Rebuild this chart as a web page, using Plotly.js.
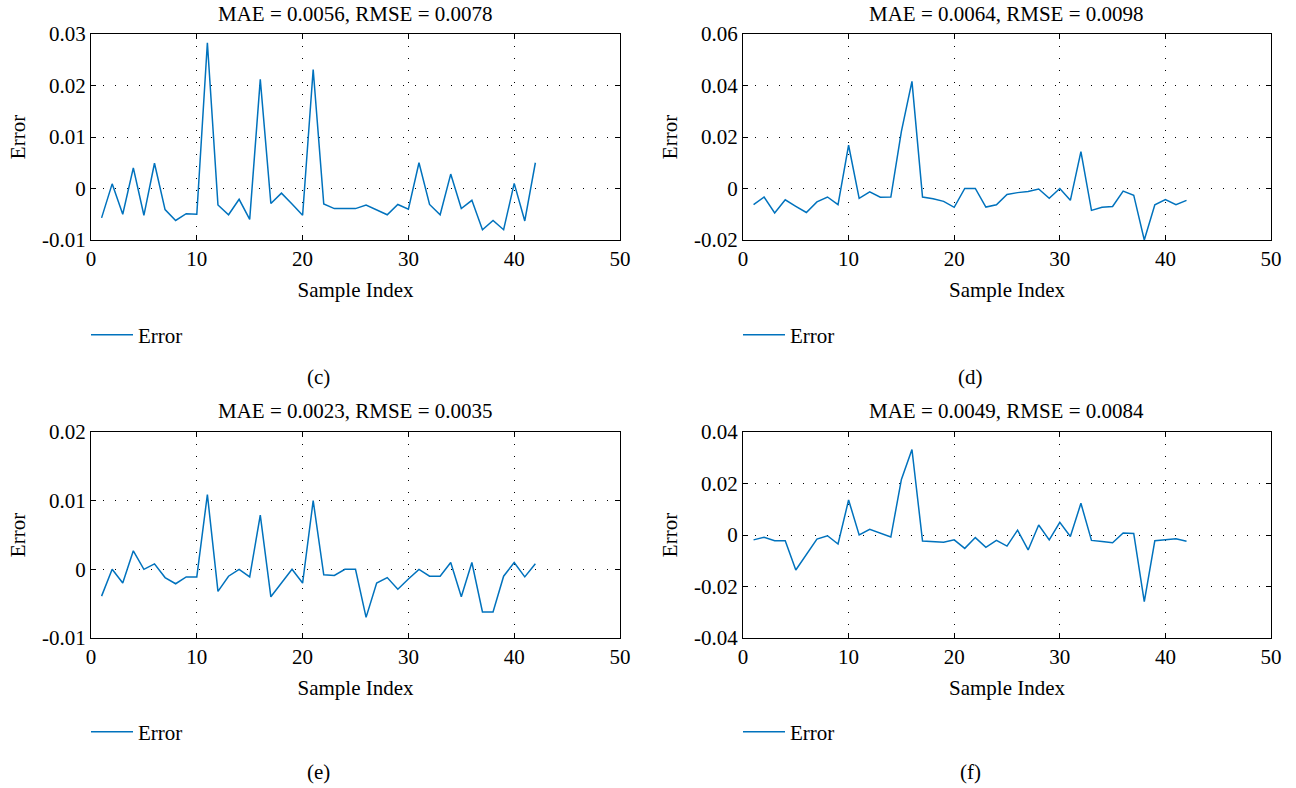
<!DOCTYPE html>
<html>
<head>
<meta charset="utf-8">
<script src="https://cdn.plot.ly/plotly-3.0.1.min.js"></script>
<style>html,body{margin:0;padding:0;background:#fff;}#chart{width:1296px;height:788px;}</style>
</head>
<body>
<div id="chart"></div>
<script>
const sampleIndex = [1,2,3,4,5,6,7,8,9,10,11,12,13,14,15,16,17,18,19,20,21,22,23,24,25,26,27,28,29,30,31,32,33,34,35,36,37,38,39,40,41,42];

const errC = [-0.0057,0.0009,-0.0050,0.0040,-0.0052,0.0049,-0.0041,-0.0062,-0.0049,-0.0050,
  0.0283,-0.0032,-0.0051,-0.0021,-0.0060,0.0212,-0.0029,-0.0009,-0.0030,-0.0052,
  0.0231,-0.0030,-0.0039,-0.0039,-0.0039,-0.0032,-0.0041,-0.0051,-0.0031,-0.0040,
  0.0050,-0.0031,-0.0051,0.0028,-0.0039,-0.0023,-0.0080,-0.0062,-0.0080,0.0010,
  -0.0063,0.0050];

const errD = [-0.0063,-0.0033,-0.0095,-0.0044,-0.0069,-0.0093,-0.0052,-0.0033,-0.0063,0.0168,
  -0.0038,-0.0013,-0.0034,-0.0033,0.0222,0.0416,-0.0033,-0.0040,-0.0050,-0.0073,
  0.0000,0.0000,-0.0072,-0.0063,-0.0023,-0.0016,-0.0012,-0.0002,-0.0038,0.0000,
  -0.0046,0.0143,-0.0085,-0.0073,-0.0070,-0.0010,-0.0026,-0.0200,-0.0063,-0.0043,
  -0.0063,-0.0046];

const errE = [-0.0039,0.0000,-0.0020,0.0027,0.0000,0.0008,-0.0012,-0.0021,-0.0011,-0.0011,
  0.0109,-0.0032,-0.0010,0.0000,-0.0011,0.0079,-0.0040,-0.0020,0.0000,-0.0020,
  0.0100,-0.0008,-0.0009,0.0000,0.0000,-0.0070,-0.0020,-0.0012,-0.0029,-0.0014,
  0.0000,-0.0010,-0.0010,0.0010,-0.0040,0.0010,-0.0062,-0.0062,-0.0010,0.0010,
  -0.0011,0.0008];

const errF = [-0.0019,-0.0009,-0.0022,-0.0022,-0.0136,-0.0076,-0.0016,-0.0003,-0.0035,0.0136,
  0.0000,0.0022,0.0006,-0.0008,0.0216,0.0332,-0.0023,-0.0026,-0.0028,-0.0019,
  -0.0052,-0.0010,-0.0048,-0.0021,-0.0043,0.0019,-0.0058,0.0039,-0.0019,0.0049,
  -0.0006,0.0123,-0.0021,-0.0025,-0.0030,0.0008,0.0006,-0.0259,-0.0022,-0.0018,
  -0.0015,-0.0024];

const xTickVals = [0,10,20,30,40,50];
const yTicksC = [-0.01,0,0.01,0.02,0.03];
const yTickTextC = ['-0.01','0','0.01','0.02','0.03'];
const yTicksD = [-0.02,0,0.02,0.04,0.06];
const yTickTextD = ['-0.02','0','0.02','0.04','0.06'];
const yTicksE = [-0.01,0,0.01,0.02];
const yTickTextE = ['-0.01','0','0.01','0.02'];
const yTicksF = [-0.04,-0.02,0,0.02,0.04];
const yTickTextF = ['-0.04','-0.02','0','0.02','0.04'];

const panelTitles = ['MAE = 0.0056, RMSE = 0.0078','MAE = 0.0064, RMSE = 0.0098','MAE = 0.0023, RMSE = 0.0035','MAE = 0.0049, RMSE = 0.0084'];
const panelLabels = ['(c)','(d)','(e)','(f)'];
const seriesName = 'Error';

const W = 1296, H = 788;
const FONT = '"Liberation Serif", "Times New Roman", serif';
const FS = 21;
const BLUE = '#0072BD';

function px(x){return x/W;}
function py(y){return 1 - y/H;}

const series = [errC, errD, errE, errF];
const legendIds = ['legend','legend2','legend3','legend4'];
const traces = series.map((s,i)=>({
  type:'scatter', mode:'lines', x:sampleIndex, y:s, name:seriesName,
  xaxis: i===0?'x':'x'+(i+1), yaxis: i===0?'y':'y'+(i+1),
  line:{color:BLUE, width:1.5}, legend: legendIds[i], showlegend:true,
  cliponaxis:true
}));

function xAxis(dom, anchor){
  return {domain:dom, anchor:anchor, range:[0,50], tickvals:xTickVals, ticktext:xTickVals.map(String),
    showline:true, mirror:'ticks', linecolor:'#000', linewidth:1, ticks:'inside', ticklen:5, tickcolor:'#000',
    showgrid:true, gridcolor:'#000', griddash:'1px,11px', gridwidth:1, zeroline:false,
    tickfont:{family:FONT,size:FS,color:'#000'},
    title:{text:'Sample Index', font:{family:FONT,size:FS,color:'#000'}, standoff:12},
    automargin:false, fixedrange:true};
}
function yAxis(dom, anchor, rng, vals, txt){
  return {domain:dom, anchor:anchor, range:rng, tickvals:vals, ticktext:txt,
    showline:true, mirror:'ticks', linecolor:'#000', linewidth:1, ticks:'inside', ticklen:5, tickcolor:'#000',
    showgrid:true, gridcolor:'#000', griddash:'1px,11px', gridwidth:1, zeroline:false,
    tickfont:{family:FONT,size:FS,color:'#000'},
    title:{text:'Error', font:{family:FONT,size:FS,color:'#000'}, standoff:10},
    automargin:false, fixedrange:true};
}

const xL=[px(91),px(620)], xR=[px(743),px(1271)];
const yT=[py(240),py(34)], yB=[py(638),py(432)];

function legendAt(x,y){
  return {x:px(x), y:py(y), xanchor:'left', yanchor:'middle', bgcolor:'rgba(0,0,0,0)',
    font:{family:FONT,size:FS,color:'#000'}, itemwidth:42, tracegroupgap:0};
}

const annotations = [];
const titlePos = [[355,14],[1007,14],[355,411],[1007,411]];
const labelPos = [[318,377],[970,377],[318,772],[970,772]];
for(let i=0;i<4;i++){
  annotations.push({text:panelTitles[i], x:px(titlePos[i][0]), y:py(titlePos[i][1]), xref:'paper', yref:'paper',
    xanchor:'center', yanchor:'middle', showarrow:false, font:{family:FONT,size:FS,color:'#000'}});
  annotations.push({text:panelLabels[i], x:px(labelPos[i][0]), y:py(labelPos[i][1]), xref:'paper', yref:'paper',
    xanchor:'center', yanchor:'middle', showarrow:false, font:{family:FONT,size:FS,color:'#000'}});
}

const layout = {
  width:W, height:H, margin:{l:0,r:0,t:0,b:0}, paper_bgcolor:'#fff', plot_bgcolor:'#fff',
  font:{family:FONT,size:FS,color:'#000'},
  xaxis:xAxis(xL,'y'), yaxis:yAxis(yT,'x',[-0.01,0.03],yTicksC,yTickTextC),
  xaxis2:xAxis(xR,'y2'), yaxis2:yAxis(yT,'x2',[-0.02,0.06],yTicksD,yTickTextD),
  xaxis3:xAxis(xL,'y3'), yaxis3:yAxis(yB,'x3',[-0.01,0.02],yTicksE,yTickTextE),
  xaxis4:xAxis(xR,'y4'), yaxis4:yAxis(yB,'x4',[-0.04,0.04],yTicksF,yTickTextF),
  legend:legendAt(86,335), legend2:legendAt(738,335), legend3:legendAt(86,732), legend4:legendAt(738,732),
  annotations:annotations, showlegend:true
};

Plotly.newPlot('chart', traces, layout, {displayModeBar:false, staticPlot:true});
</script>
</body>
</html>
